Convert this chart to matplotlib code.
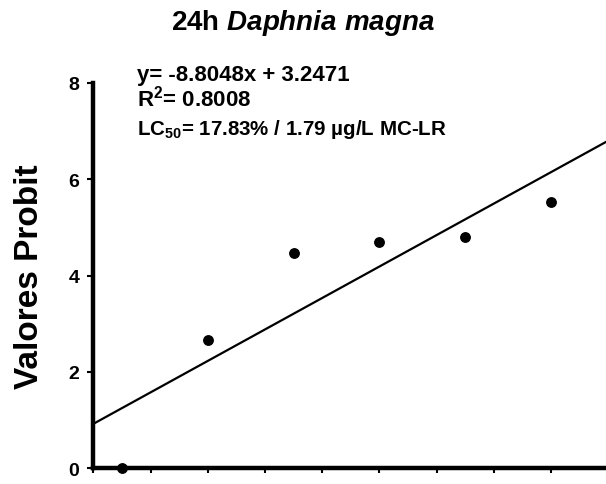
import matplotlib
matplotlib.use("Agg")
import matplotlib.pyplot as plt
import numpy as np

# Probit values for each concentration step (log scale positions)
conc = [0.5, 2.0, 3.5, 5.0, 6.5, 8.0]
probit = [0.0, 2.67, 4.48, 4.70, 4.81, 5.53]
yticks = [0, 2, 4, 6, 8]
eq_lines = [
    "y= -8.8048x + 3.2471",
    r"R$^{2}$= 0.8008",
    r"LC$_{50}$= 17.83% / 1.79 µg/L MC-LR",
]

plt.rcParams["font.family"] = ["Liberation Sans", "DejaVu Sans"]
plt.rcParams["font.weight"] = "bold"
plt.rcParams["mathtext.fontset"] = "custom"
plt.rcParams["mathtext.rm"] = "Liberation Sans:bold"
plt.rcParams["mathtext.bf"] = "Liberation Sans:bold"
plt.rcParams["mathtext.it"] = "Liberation Sans:bold:italic"
plt.rcParams["mathtext.default"] = "rm"

W, H = 606, 485
fig = plt.figure(figsize=(W / 100, H / 100), dpi=100)
x0, y0, ytop = 93.3, 469.3, 84.0
ax = fig.add_axes([x0 / W, (H - y0) / H, 1 - x0 / W, (y0 - ytop) / H])

xmax = (W - x0) / 57.2
ax.set_xlim(0, xmax)
ax.set_ylim(0, 8)

# linear fit through the probit points
slope, icpt = np.polyfit(conc, probit, 1)
xs = np.array([0, xmax])
ax.plot(xs, icpt + slope * xs, color="black", lw=1.6, zorder=2)
ax.plot(conc, probit, "o", color="black", ms=6.8, clip_on=False, zorder=4)

for s in ["top", "right"]:
    ax.spines[s].set_visible(False)
for s in ["left", "bottom"]:
    ax.spines[s].set_linewidth(3.2)

ax.set_yticks(yticks)
ax.set_xticks(range(0, 9))
ax.set_xticklabels([])
ax.tick_params(axis="y", direction="out", length=4, width=1.5, pad=6, labelsize=14)
ax.tick_params(axis="x", direction="out", length=3.5, width=1.5)
for lab in ax.get_yticklabels():
    lab.set_fontweight("bold")

fig.text(30 / W, (H - 277) / H, "Valores Probit", rotation=90, fontsize=24,
         fontweight="bold", ha="center", va="center")
fig.text(0.5, (H - 30) / H, r"24h $\mathit{Daphnia\ magna}$", fontsize=20,
         fontweight="bold", ha="center", va="baseline")

for line, base, fs in zip(eq_lines, [81, 107, 135], [16, 16, 14.8]):
    fig.text(137 / W, (H - base) / H, line, fontsize=fs, fontweight="bold",
             ha="left", va="baseline")

fig.savefig("out.png", dpi=100)
